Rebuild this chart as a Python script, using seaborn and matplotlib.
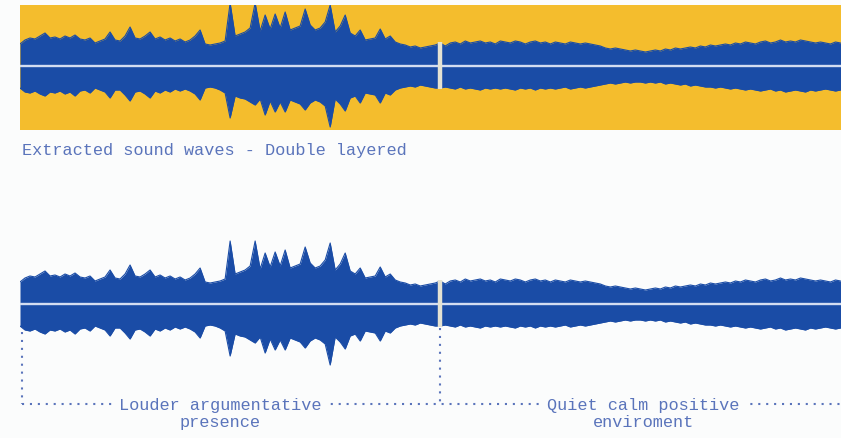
import numpy as np
import pandas as pd
import seaborn as sns
import matplotlib.pyplot as plt

# envelope of the extracted sound wave (one value every 0.5 s)
top_amp = [22, 26, 28, 27, 30, 33, 28, 29, 27, 30,
           28, 31, 27, 26, 28, 23, 25, 27, 34, 26,
           25, 30, 39, 28, 27, 30, 34, 27, 29, 26,
           28, 25, 27, 24, 26, 30, 36, 22, 21, 22,
           23, 25, 63, 30, 32, 34, 38, 63, 35, 51,
           37, 52, 38, 54, 36, 38, 40, 57, 41, 36,
           38, 44, 61, 34, 40, 51, 33, 30, 36, 26,
           27, 28, 37, 27, 30, 24, 22, 21, 19, 20,
           18, 19, 20, 21, 23, 20, 23, 24, 22, 25,
           23, 24, 25, 23, 24, 22, 25, 24, 23, 25,
           24, 22, 24, 25, 23, 24, 22, 24, 23, 22,
           24, 23, 22, 23, 22, 21, 20, 18, 17, 18,
           17, 16, 15, 16, 15, 14, 15, 16, 15, 17,
           16, 18, 17, 18, 19, 18, 20, 19, 21, 20,
           21, 22, 21, 23, 22, 24, 23, 22, 24, 25,
           23, 24, 26, 24, 25, 24, 26, 25, 24, 23,
           24, 23, 22, 24, 23]
bottom_amp = [22, 26, 27, 25, 28, 30, 26, 27, 25, 28,
              26, 30, 25, 24, 27, 22, 24, 26, 32, 24,
              24, 29, 35, 26, 25, 28, 32, 25, 27, 24,
              26, 23, 25, 23, 25, 28, 34, 22, 21, 22,
              24, 27, 52, 30, 32, 33, 36, 39, 33, 49,
              35, 46, 36, 46, 34, 36, 38, 44, 37, 34,
              36, 40, 61, 33, 38, 45, 32, 30, 37, 27,
              28, 29, 37, 27, 29, 24, 22, 21, 20, 21,
              19, 20, 21, 22, 22, 21, 22, 23, 21, 23,
              22, 23, 24, 22, 23, 22, 23, 22, 23, 24,
              22, 23, 22, 24, 22, 23, 22, 23, 22, 21,
              23, 22, 21, 22, 21, 20, 19, 18, 17, 18,
              17, 16, 17, 16, 16, 17, 16, 17, 16, 18,
              17, 18, 19, 18, 20, 19, 20, 21, 21, 22,
              21, 22, 23, 22, 23, 24, 23, 24, 25, 24,
              23, 25, 24, 26, 25, 24, 25, 26, 24, 25,
              24, 23, 24, 25, 24]
step = 0.5
split_time = 42.0

title = 'Extracted sound waves - Double layered'
left_label = 'Louder argumentative\npresence'
right_label = 'Quiet calm positive\nenviroment'
left_label_time = 20.0
right_label_time = 62.3

BG = '#fbfcfc'
YELLOW = '#f4bd2d'
BLUE = '#1a4ca6'
CENTER = '#d3ddf1'
GAP = '#e4e2d2'
TEXT = '#5a74bb'
FONT = ['Liberation Mono', 'DejaVu Sans Mono']

time = np.arange(len(top_amp)) * step
top = np.array(top_amp, dtype=float)
bot = -np.array(bottom_amp, dtype=float)
df = pd.DataFrame({'time': np.concatenate([time, time]),
                   'amp': np.concatenate([top, bot]),
                   'edge': ['top'] * len(time) + ['bottom'] * len(time)})
i_split = int(np.argmin(np.abs(time - split_time)))

sns.set_theme(style='white')
plt.rcParams['font.family'] = FONT

fig = plt.figure(figsize=(8.41, 4.39), dpi=100, facecolor=BG)
W, H = 841, 439


def draw_wave(ax):
    ax.fill_between(time, bot, top, color=BLUE, lw=0, zorder=2)
    sns.lineplot(data=df, x='time', y='amp', units='edge', estimator=None,
                 color=BLUE, lw=0.8, ax=ax, zorder=2, legend=False)
    ax.axhline(0, color=CENTER, lw=1.7, zorder=3)
    ax.vlines(split_time, bot[i_split] - 1, top[i_split] + 1, color=GAP,
              lw=3.2, zorder=4)
    ax.set_xlim(0, time[-1] + 0.05)
    ax.set_xlabel('')
    ax.set_ylabel('')
    ax.set_xticks([])
    ax.set_yticks([])
    for s in ax.spines.values():
        s.set_visible(False)


# I. top panel - waveform on yellow
ax1 = fig.add_axes([20 / W, 1 - 131 / H, 821 / W, 125 / H])
ax1.set_facecolor(YELLOW)
draw_wave(ax1)
ax1.set_ylim(-64, 61)

fig.text(22 / W, 1 - 151 / H, title, fontsize=12.2, color=TEXT,
         ha='left', va='center', family=FONT)

# II. bottom panel - plain waveform with annotations
ax2 = fig.add_axes([20 / W, 1 - 435 / H, 821 / W, 205 / H])
ax2.patch.set_alpha(0)
draw_wave(ax2)
ax2.set_ylim(-130, 75)

line_y = -100
dot = dict(color=TEXT, lw=1.5, linestyle=(0, (1, 2.8)), zorder=1)
ax2.plot([0.2, time[-1] + 0.05], [line_y, line_y], **dot)
ax2.plot([0.2, 0.2], [-bottom_amp[0] - 6, line_y], **dot)
ax2.plot([split_time, split_time], [bot[i_split] - 2, line_y], **dot)

for t, lab in [(left_label_time, left_label), (right_label_time, right_label)]:
    ax2.text(t, line_y + 7, lab, fontsize=12.2, color=TEXT, ha='center',
             va='top', linespacing=1.2, family=FONT, zorder=5,
             bbox=dict(facecolor=BG, edgecolor='none', pad=4.0),
             transform=ax2.transData)

fig.savefig('out.png', dpi=100, facecolor=BG)
